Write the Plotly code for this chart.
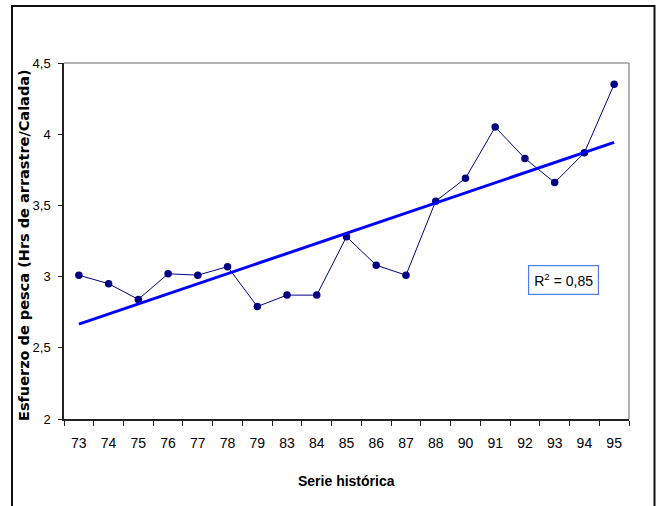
import numpy as np
import plotly.graph_objects as go

years = ["73", "74", "75", "76", "77", "78", "79", "83", "84", "85",
         "86", "87", "88", "90", "91", "92", "93", "94", "95"]
esfuerzo = [3.01, 2.95, 2.84, 3.02, 3.01, 3.07, 2.79, 2.87, 2.87, 3.28,
            3.08, 3.01, 3.53, 3.69, 4.05, 3.83, 3.66, 3.87, 4.35]
y_ticks = [2, 2.5, 3, 3.5, 4, 4.5]
r2_label = "R<sup>2</sup> = 0,85"

idx = np.arange(len(years))
slope, intercept = np.polyfit(idx, esfuerzo, 1)
trend = slope * idx + intercept

narrow = "Liberation Sans Narrow, Arial Narrow, Liberation Sans, Arial"

fig = go.Figure()
fig.add_trace(go.Scatter(
    x=years, y=esfuerzo, mode="lines+markers",
    line=dict(color="#000080", width=1),
    marker=dict(color="#000080", size=7.5, symbol="circle"),
    showlegend=False, hoverinfo="x+y"))
fig.add_trace(go.Scatter(
    x=years, y=trend, mode="lines",
    line=dict(color="#0000FF", width=3),
    showlegend=False, hoverinfo="skip"))

W, H = 656, 506
L, R, T, B = 64, 27, 63, 87
pw, ph = W - L - R, H - T - B

def px(x):
    return (x - L) / pw

def py(y):
    return (H - B - y) / ph

fig.update_layout(
    width=W, height=H,
    margin=dict(l=L, r=R, t=T, b=B, autoexpand=False),
    paper_bgcolor="white", plot_bgcolor="white",
    separators=",.",
    font=dict(family=narrow, size=14, color="black"),
    xaxis=dict(
        type="category", range=[-0.5, len(years) - 0.5],
        showgrid=False, zeroline=False,
        showline=True, linecolor="#222222", linewidth=1.5,
        ticks="outside", tickson="boundaries", ticklen=5,
        tickcolor="#222222", tickwidth=1,
        tickfont=dict(family=narrow, size=14, color="black"),
        ticklabelstandoff=10, fixedrange=True),
    yaxis=dict(
        range=[2, 4.5], tickvals=y_ticks,
        showgrid=False, zeroline=False,
        showline=True, linecolor="#222222", linewidth=1.5,
        ticks="outside", ticklen=4, tickcolor="#222222", tickwidth=1,
        tickfont=dict(family=narrow, size=13, color="black"),
        ticklabelstandoff=5, fixedrange=True),
    shapes=[
        dict(type="line", xref="paper", yref="paper", x0=0, x1=1, y0=1, y1=1,
             line=dict(color="#999999", width=1.5)),
        dict(type="line", xref="paper", yref="paper", x0=1, x1=1, y0=0, y1=1,
             line=dict(color="#999999", width=1.5)),
        dict(type="rect", xref="paper", yref="paper",
             x0=px(12), x1=px(654.5), y0=py(6), y1=py(530),
             line=dict(color="#111111", width=2)),
    ],
    annotations=[
        dict(text="Esfuerzo de pesca (Hrs de arrastre/Calada)",
             xref="paper", yref="paper", x=px(24), y=py(245),
             textangle=-90, showarrow=False, xanchor="center", yanchor="middle",
             font=dict(family="DejaVu Sans", size=14.5, color="black", weight="bold")),
        dict(text="Serie histórica", xref="paper", yref="paper",
             x=px(346), y=py(481), showarrow=False,
             xanchor="center", yanchor="middle",
             font=dict(family=narrow, size=14, color="black", weight="bold")),
        dict(text=r2_label, xref="paper", yref="paper",
             x=px(563.5), y=py(279.5), showarrow=False,
             xanchor="center", yanchor="middle",
             bordercolor="#4f7fef", borderwidth=1.2, borderpad=5,
             bgcolor="white",
             font=dict(family=narrow, size=14, color="black")),
    ],
)

fig.write_html("out.html", config={"displayModeBar": False},
               post_script="document.body.style.margin='0';")
